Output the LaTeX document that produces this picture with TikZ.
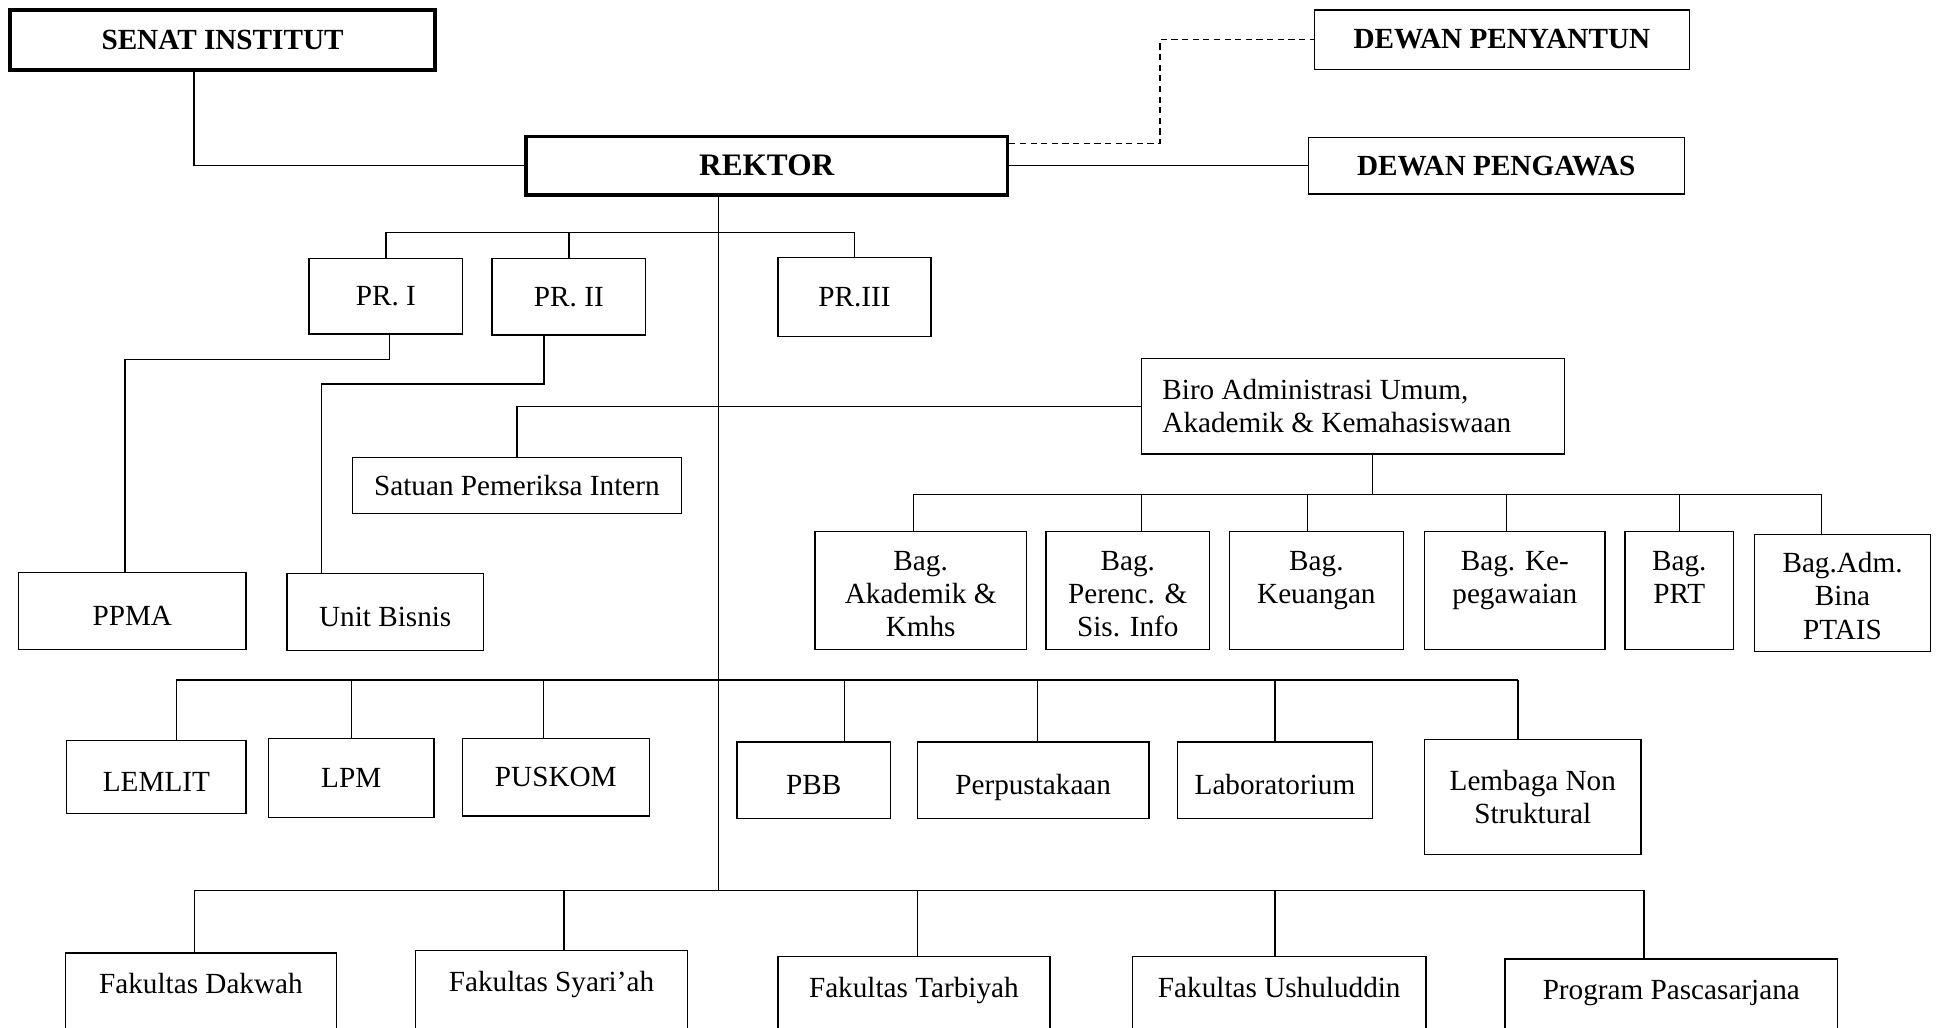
\documentclass[tikz,border=0pt]{standalone}
\usepackage{fontspec}
\setmainfont{Liberation Serif}

\begin{document}
\begin{tikzpicture}[x=0.5mm, y=-0.5mm, line width=1.6pt,
  every node/.style={inner sep=0pt, align=flush center},
  box/.style={draw, line width=1.6pt, font=\fontsize{33.6}{38.4}\selectfont},
  lowbox/.style={box, text height=11.8mm, text depth=0pt},
  headbox/.style={box, font=\fontsize{33.6}{38.4}\selectfont\bfseries},
  framebox/.style={headbox, line width=3.2pt},
  bagbox/.style={box, text height=15.5mm, text depth=32mm},
  fakbox/.style={box, anchor=north, text height=16.5mm, text depth=40mm}]
\useasboundingbox (0,0) rectangle (1568,831);
\clip (0,0) rectangle (1568,831);

% Top
\node[framebox, minimum width=172mm, minimum height=24.5mm] (senat) at (180,32.5) {SENAT INSTITUT};
\node[framebox, minimum width=195mm, minimum height=24mm, font=\fontsize{36}{40}\selectfont\bfseries] (rektor) at (620,134) {REKTOR};
\node[headbox, minimum width=151.5mm, minimum height=24mm] (penyantun) at (1214.5,32) {DEWAN PENYANTUN};
\node[headbox, minimum width=152mm, minimum height=23mm] (pengawas) at (1210,134) {DEWAN PENGAWAS};
\draw[line width=1pt] ([shift={(1.3mm,1.3mm)}]senat.south west) rectangle ([shift={(-1.3mm,-1.3mm)}]senat.north east);
\draw[line width=1pt] ([shift={(1.3mm,1.3mm)}]rektor.south west) rectangle ([shift={(-1.3mm,-1.3mm)}]rektor.north east);

% Pembantu Rektor
\node[box, minimum width=62mm, minimum height=30.5mm] (pr1) at (312,239.5) {PR. I};
\node[box, minimum width=62mm, minimum height=31mm] (pr2) at (460,240) {PR. II};
\node[box, minimum width=62mm, minimum height=32mm] (pr3) at (691,240) {PR.III};
\node[lowbox, minimum width=92mm, minimum height=31mm] (ppma) at (107,494) {PPMA};
\node[lowbox, minimum width=79.5mm, minimum height=31mm] (bisnis) at (311.5,495) {Unit Bisnis};

% Biro
\node[box, minimum width=171mm, minimum height=38.5mm, text width=154mm, align=flush left] (biro) at (1094,328.5) {Biro Administrasi Umum,\\Akademik \& Kemahasiswaan};
\node[box, minimum width=133mm, minimum height=22.5mm] (spi) at (418,392.5) {Satuan Pemeriksa Intern};
\node[bagbox, text width=85.5mm] (akademik) at (744.5,477.5) {Bag.\\Akademik \&\\Kmhs};
\node[bagbox, text width=66mm] (perenc) at (912,477.5) {Bag.\\Perenc. \&\\Sis. Info};
\node[bagbox, text width=70.5mm] (keuangan) at (1064.5,477.5) {Bag.\\Keuangan};
\node[bagbox, text width=73mm] (kepeg) at (1225,477.5) {Bag. Ke-\\pegawaian};
\node[bagbox, text width=44mm] (prt) at (1358,477.5) {Bag.\\PRT};
\node[bagbox, text width=71mm] (bina) at (1490,479.5) {Bag.Adm.\\Bina\\PTAIS};

% Lembaga
\node[lowbox, minimum width=72.5mm, minimum height=29.5mm] (lemlit) at (126.5,628.5) {LEMLIT};
\node[box, minimum width=67mm, minimum height=32mm] (lpm) at (284,629) {LPM};
\node[box, minimum width=75.5mm, minimum height=31.5mm] (puskom) at (449.5,628.5) {PUSKOM};
\node[lowbox, minimum width=62mm, minimum height=31mm] (pbb) at (658,631) {PBB};
\node[lowbox, minimum width=93.5mm, minimum height=31mm] (perpus) at (835.5,631) {Perpustakaan};
\node[lowbox, minimum width=79mm, minimum height=31mm] (lab) at (1031,631) {Laboratorium};
\node[box, minimum width=87.5mm, minimum height=46.5mm] (nonstruk) at (1239.5,644.5) {Lembaga Non\\Struktural};

% Fakultas
\node[fakbox, minimum width=109.5mm] (dakwah) at (162.5,770) {Fakultas Dakwah};
\node[fakbox, minimum width=110mm] (syariah) at (446,768) {Fakultas Syari’ah};
\node[fakbox, minimum width=110mm] (tarbiyah) at (739,773) {Fakultas Tarbiyah};
\node[fakbox, minimum width=118.5mm] (ushuluddin) at (1034.5,773) {Fakultas Ushuluddin};
\node[fakbox, minimum width=134.5mm] (pasca) at (1351.5,775) {Program Pascasarjana};

% Connectors
\coordinate (trunk) at ([xshift=-19.5mm]rektor.south);
\coordinate (prbus) at (0,188);
\coordinate (bagbus) at (0,400);
\coordinate (lbus) at (0,550);
\coordinate (fbus) at (0,720);

\draw ([xshift=-11.5mm]senat.south) |- (rektor.west);
\draw (rektor.east) -- (pengawas.west);
\draw[dash pattern=on 2.5mm off 1.8mm] ([yshift=-3.5mm]rektor.north east) -- ++(61mm,0) |- (penyantun.west);
\draw (trunk) -- (trunk |- fbus);

\draw (pr1.north |- prbus) -- (pr3.north |- prbus);
\draw (pr1.north) -- (pr1.north |- prbus);
\draw (pr2.north) -- (pr2.north |- prbus);
\draw (pr3.north) -- (pr3.north |- prbus);
\draw ([xshift=1.5mm]pr1.south) -- ++(0,-10mm) -| ([xshift=-3mm]ppma.north);
\draw ([xshift=-10mm]pr2.south) -- ++(0,-19.5mm) -| ([xshift=-25.75mm]bisnis.north);

\draw (biro.west) -| (spi.north);
\draw ([xshift=8mm]biro.south) -- ([xshift=8mm]biro.south |- bagbus);
\draw ([xshift=-3mm]akademik.north |- bagbus) -- ([xshift=-8.5mm]bina.north |- bagbus);
\draw ([xshift=-3mm]akademik.north) -- ([xshift=-3mm]akademik.north |- bagbus);
\draw ([xshift=5.5mm]perenc.north) -- ([xshift=5.5mm]perenc.north |- bagbus);
\draw ([xshift=-3.5mm]keuangan.north) -- ([xshift=-3.5mm]keuangan.north |- bagbus);
\draw ([xshift=-3.5mm]kepeg.north) -- ([xshift=-3.5mm]kepeg.north |- bagbus);
\draw (prt.north) -- (prt.north |- bagbus);
\draw ([xshift=-8.5mm]bina.north) -- ([xshift=-8.5mm]bina.north |- bagbus);

\draw ([xshift=8mm]lemlit.north |- lbus) -- ([xshift=-6mm]nonstruk.north |- lbus);
\draw ([xshift=8mm]lemlit.north) -- ([xshift=8mm]lemlit.north |- lbus);
\draw (lpm.north) -- (lpm.north |- lbus);
\draw ([xshift=-5mm]puskom.north) -- ([xshift=-5mm]puskom.north |- lbus);
\draw ([xshift=12.5mm]pbb.north) -- ([xshift=12.5mm]pbb.north |- lbus);
\draw ([xshift=1.75mm]perpus.north) -- ([xshift=1.75mm]perpus.north |- lbus);
\draw (lab.north) -- (lab.north |- lbus);
\draw ([xshift=-6mm]nonstruk.north) -- ([xshift=-6mm]nonstruk.north |- lbus);

\draw ([xshift=-2.5mm]dakwah.north |- fbus) -- ([xshift=-11mm]pasca.north |- fbus);
\draw ([xshift=-2.5mm]dakwah.north) -- ([xshift=-2.5mm]dakwah.north |- fbus);
\draw ([xshift=5mm]syariah.north) -- ([xshift=5mm]syariah.north |- fbus);
\draw ([xshift=1.5mm]tarbiyah.north) -- ([xshift=1.5mm]tarbiyah.north |- fbus);
\draw ([xshift=-1.75mm]ushuluddin.north) -- ([xshift=-1.75mm]ushuluddin.north |- fbus);
\draw ([xshift=-11mm]pasca.north) -- ([xshift=-11mm]pasca.north |- fbus);
\end{tikzpicture}
\end{document}
